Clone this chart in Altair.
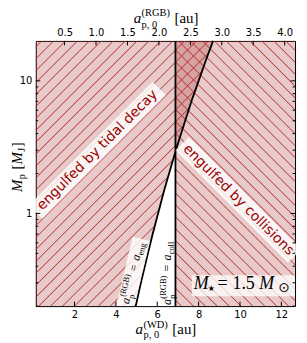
import math
import altair as alt
import pandas as pd

# ---------------- data ----------------
M_GRID = [0.2, 0.3, 0.5, 0.7, 1.0, 1.5, 2.0, 3.0, 5.0, 7.0, 10.0, 15.0, 20.0]
A_ENG_WD = [4.96, 5.21, 5.55, 5.78, 6.04, 6.34, 6.57, 6.90, 7.35, 7.65, 8.00, 8.40, 8.70]
A_COLL_WD = [6.88]
M_RANGE = [0.2, 20.0]
X_RANGE_WD = [0.13, 12.66]
WD_PER_RGB = 3.04
WD_TICKS = [2, 4, 6, 8, 10, 12]
RGB_TICKS = [0.5, 1.0, 1.5, 2.0, 2.5, 3.0, 3.5, 4.0]
Y_MAJOR = [1, 10]
Y_MINOR = [0.2, 0.3, 0.4, 0.5, 0.6, 0.7, 0.8, 0.9, 2, 3, 4, 5, 6, 7, 8, 9]
LABEL_TIDAL = "engulfed by tidal decay"
LABEL_COLL = "engulfed by collisions"

# ---------------- layout / style ----------------
W, H = 261, 267
FILL = "#a52a2a"
HATCH_RGB = (178, 34, 34)
TXT_RED = "#990000"
SERIF = "Liberation Serif, DejaVu Serif"

X_SCALE = alt.Scale(domain=X_RANGE_WD, nice=False, zero=False)
RGB_SCALE = alt.Scale(domain=[X_RANGE_WD[0] / WD_PER_RGB, X_RANGE_WD[1] / WD_PER_RGB],
                      nice=False, zero=False)
Y_SCALE = alt.Scale(type="log", domain=M_RANGE, nice=False)
Y_AX = alt.Axis(values=Y_MAJOR, format="d", title=None, labelPadding=4)

ONE = alt.Data(values=[{"k": 0}])


def xpx(v):
    return (v - X_RANGE_WD[0]) / (X_RANGE_WD[1] - X_RANGE_WD[0]) * W


def hatch(w, h, direction, spacing=12.0, lw=0.85, alpha=0.8):
    r = h / w
    k = (1 + r) / (1 + r * r)
    if direction == "/":
        x1, y1, x2, y2 = 0, 0, k, k * r
    else:
        x1, y1, x2, y2 = 0, 1, k, 1 - k * r
    total = w + h
    dt = spacing / total
    d = lw * math.sqrt(2) / total
    c0 = "rgba(%d,%d,%d,0)" % HATCH_RGB
    c1 = "rgba(%d,%d,%d,%.2f)" % (HATCH_RGB + (alpha,))
    stops = [{"offset": 0, "color": c0}]
    c = dt * 0.5
    while c + d < 1:
        if c - d > 0:
            stops += [{"offset": round(c - d, 5), "color": c0},
                      {"offset": round(c, 5), "color": c1},
                      {"offset": round(c + d, 5), "color": c0}]
        c += dt
    stops.append({"offset": 1, "color": c0})
    return {"gradient": "linear", "x1": x1, "y1": y1, "x2": x2, "y2": y2, "stops": stops}


TR = {" ": 250, "(": 333, ")": 333, "[": 333, "]": 333, "=": 564, ".": 250, ",": 250,
      "0": 500, "1": 500, "5": 500, "R": 667, "G": 722, "B": 667, "W": 944, "D": 722,
      "a": 444, "u": 500, "e": 444, "n": 500, "g": 500, "c": 444, "o": 500, "l": 278,
      "p": 500, "M": 889, "J": 389}
TI = {"a": 500, "p": 500, "M": 833, "J": 444}


def tw(s, size, it):
    tab = TI if it else TR
    return sum(tab.get(ch, TR.get(ch, 500)) for ch in s) / 1000.0 * size


def P(t, size, it=False, shift=0.0, font=SERIF, w=None, gap=0.0):
    return {"t": t, "size": size, "it": it, "shift": shift, "font": font, "w": w, "gap": gap}


def compose(x0, y0, angle, items, color="black"):
    out = []
    adv = 0.0
    for item in items:
        group = item if isinstance(item, list) else [item]
        adv += max(p["gap"] for p in group)
        wmax = 0.0
        for p in group:
            out.append(
                alt.Chart(ONE).mark_text(
                    text=p["t"], font=p["font"], fontSize=p["size"],
                    fontStyle="italic" if p["it"] else "normal",
                    angle=angle, align="left", baseline="alphabetic",
                    dx=adv, dy=-p["shift"], color=color,
                ).encode(x=alt.value(x0), y=alt.value(y0))
            )
            wp = p["w"] if p["w"] is not None else tw(p["t"], p["size"], p["it"])
            wmax = max(wmax, wp)
        adv += wmax
    return out, adv


def box(cx, cy, angle, length, width, opacity=0.8, clip=False):
    a = math.radians(angle)
    ux, uy = math.cos(a), math.sin(a)
    return alt.Chart(ONE).mark_rule(
        color="white", strokeWidth=width, strokeCap="butt", opacity=opacity, clip=clip
    ).encode(
        x=alt.value(cx - ux * length / 2), y=alt.value(cy - uy * length / 2),
        x2=alt.value(cx + ux * length / 2), y2=alt.value(cy + uy * length / 2),
    )


# ---------------- data frames ----------------
df_eng = pd.DataFrame({"M": M_GRID, "a": A_ENG_WD, "x0": X_RANGE_WD[0]})
df_coll = pd.DataFrame({"x": A_COLL_WD, "x2": [X_RANGE_WD[1]],
                        "y": [M_RANGE[0]], "y2": [M_RANGE[1]]})

w_tidal = xpx(max(A_ENG_WD))
w_coll = W - xpx(A_COLL_WD[0])

layers = []

# filled regions
layers.append(
    alt.Chart(df_eng).mark_area(orient="horizontal", color=FILL, opacity=0.25).encode(
        y=alt.Y("M:Q", scale=Y_SCALE, axis=Y_AX),
        x=alt.X("x0:Q", scale=X_SCALE,
                axis=alt.Axis(values=WD_TICKS, format="d", title=None, labelPadding=3)),
        x2="a:Q",
    )
)
layers.append(
    alt.Chart(df_coll).mark_rect(color=FILL, opacity=0.25).encode(
        x=alt.X("x:Q", scale=X_SCALE, axis=None), x2="x2:Q",
        y=alt.Y("y:Q", scale=Y_SCALE, axis=Y_AX), y2="y2:Q",
    )
)
# hatching
layers.append(
    alt.Chart(df_eng).mark_area(orient="horizontal", fill=hatch(w_tidal, H, "/")).encode(
        y=alt.Y("M:Q", scale=Y_SCALE, axis=Y_AX),
        x=alt.X("x0:Q", scale=X_SCALE, axis=None), x2="a:Q",
    )
)
layers.append(
    alt.Chart(df_coll).mark_rect(fill=hatch(w_coll, H, "\\")).encode(
        x=alt.X("x:Q", scale=X_SCALE, axis=None), x2="x2:Q",
        y=alt.Y("y:Q", scale=Y_SCALE, axis=Y_AX), y2="y2:Q",
    )
)
# boundary lines
layers.append(
    alt.Chart(df_eng).mark_line(color="black", strokeWidth=1.8).encode(
        x=alt.X("a:Q", scale=X_SCALE, axis=None),
        y=alt.Y("M:Q", scale=Y_SCALE, axis=Y_AX), order="M:Q",
    )
)
layers.append(
    alt.Chart(df_coll).mark_rule(color="black", strokeWidth=1.8).encode(
        x=alt.X("x:Q", scale=X_SCALE, axis=None)
    )
)

# top (RGB) axis carrier
layers.append(
    alt.Chart(pd.DataFrame({"r": RGB_TICKS})).mark_point(opacity=0).encode(
        x=alt.X("r:Q", scale=RGB_SCALE,
                axis=alt.Axis(orient="top", values=RGB_TICKS, format=".1f", title=None,
                              labelPadding=3)),
    )
)

# region labels with boxes
layers.append(box(62, 110, 315, 176, 19, 0.82))
layers.append(
    alt.Chart(ONE).mark_text(text=LABEL_TIDAL, angle=315, align="center", baseline="middle",
                             font="DejaVu Sans", fontSize=14, color=TXT_RED)
    .encode(x=alt.value(62), y=alt.value(110))
)
layers.append(box(204, 160, 45, 160, 19, 0.82))
layers.append(
    alt.Chart(ONE).mark_text(text=LABEL_COLL, angle=45, align="center", baseline="middle",
                             font="DejaVu Sans", fontSize=14, color=TXT_RED)
    .encode(x=alt.value(204), y=alt.value(160))
)

# line labels
S = 12.0
s = 8.5


def line_label(sub):
    return [
        P("a", S, it=True),
        [P("p", s, shift=-0.3 * S, gap=0.5), P("(RGB)", s, shift=0.45 * S, gap=0.5)],
        P("=", S, gap=0.35 * S),
        P("a", S, it=True, gap=0.35 * S),
        P(sub, s, shift=-0.22 * S, gap=0.3),
    ]


ang_eng = 283.5
ax, ay = 93.5, 265.5
ra = math.radians(ang_eng)
dirx, diry = math.cos(ra), math.sin(ra)
upx, upy = math.sin(ra), -math.cos(ra)
eng_parts, eng_len = compose(ax, ay, ang_eng, line_label("eng"))
bc = (ax + dirx * eng_len / 2 + upx * 3.0, ay + diry * eng_len / 2 + upy * 3.0)
layers.append(box(bc[0], bc[1], ang_eng, eng_len + 8, 18, 0.8, clip=True))
layers += eng_parts
coll_parts, _ = compose(136.5, 266.0, 270, line_label("coll"))
layers += coll_parts

# M_star label
layers.append(box(209, 246.5, 0, 104, 21, 0.75))
mstar, _ = compose(159, 250, 0, [
    P("M", 18, it=True, w=14),
    P("\u2605", 8, shift=-2, font="DejaVu Sans", w=10),
    P("=", 18, w=15),
    P("1.5", 18, w=27),
    P("M", 18, it=True, w=19),
    P("\u2299", 14, shift=-3, font="DejaVu Sans", w=12),
])
layers += mstar

# axis titles
TS = 15
ts = 10.5
top_t, _ = compose(98.5, -18, 0, [
    P("a", TS, it=True),
    [P("p, 0", ts, shift=-0.33 * TS, gap=0.5), P("(RGB)", ts, shift=0.47 * TS, gap=0.5)],
    P("[au]", TS, gap=0.3 * TS),
])
layers += top_t
bot_t, _ = compose(100.5, 295, 0, [
    P("a", TS, it=True),
    [P("p, 0", ts, shift=-0.3 * TS, gap=0.5), P("(WD)", ts, shift=0.4 * TS, gap=0.5)],
    P("[au]", TS, gap=0.3 * TS),
])
layers += bot_t
y_t, _ = compose(-14, 152, 270, [
    P("M", TS, it=True),
    P("p", ts, shift=-0.2 * TS, gap=0.3),
    P("[", TS, gap=0.3 * TS),
    P("M", TS, it=True),
    P("J", ts, shift=-0.2 * TS, gap=0.3),
    P("]", TS, gap=0.5),
])
layers += y_t


# inward ticks
def yticks(vals, x1, x2):
    return alt.Chart(pd.DataFrame({"v": vals})).mark_rule(color="black", strokeWidth=1).encode(
        y=alt.Y("v:Q", scale=Y_SCALE, axis=Y_AX), x=alt.value(x1), x2=alt.value(x2))


layers += [yticks(Y_MAJOR, 0, 4.5), yticks(Y_MINOR, 0, 2.5),
           yticks(Y_MAJOR, W, W - 4.5), yticks(Y_MINOR, W, W - 2.5)]
layers.append(
    alt.Chart(pd.DataFrame({"v": WD_TICKS})).mark_rule(color="black", strokeWidth=1).encode(
        x=alt.X("v:Q", scale=X_SCALE, axis=None), y=alt.value(H), y2=alt.value(H - 4.5))
)
layers.append(
    alt.Chart(pd.DataFrame({"v": RGB_TICKS})).mark_rule(color="black", strokeWidth=1).encode(
        x=alt.X("v:Q", scale=RGB_SCALE, axis=None), y=alt.value(0), y2=alt.value(4.5))
)

chart = (
    alt.layer(*layers)
    .resolve_scale(x="independent")
    .properties(width=W, height=H, autosize=alt.AutoSizeParams(type="none"),
                padding={"left": 28, "top": 32, "right": 4, "bottom": 35})
    .configure_view(stroke="black", strokeWidth=1)
    .configure_axis(labelFont="DejaVu Sans", labelFontSize=10, labelColor="black",
                    grid=False, domain=False, ticks=False)
)

chart.save("out.html", embed_options={"renderer": "svg", "actions": False})
